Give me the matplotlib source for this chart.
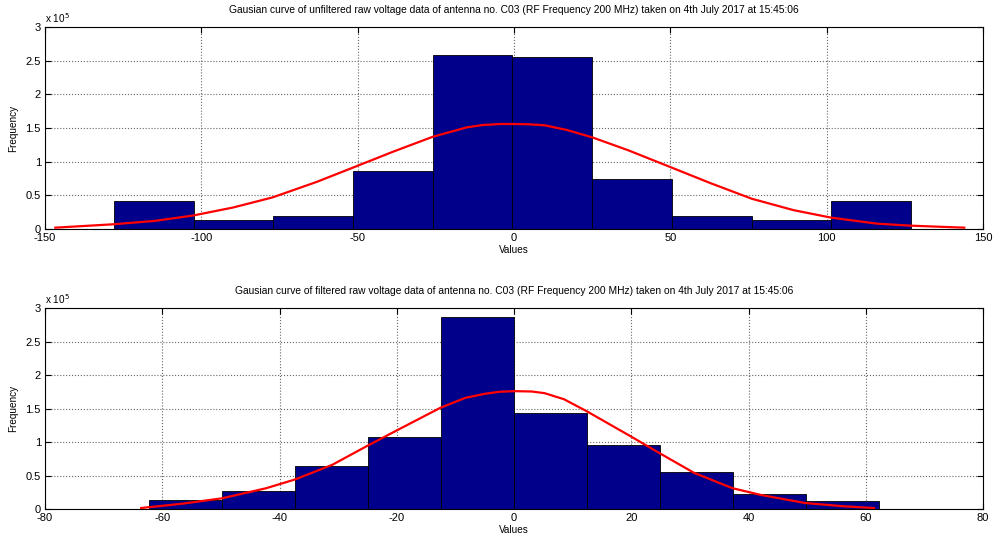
import numpy as np
import matplotlib
matplotlib.use('Agg')
from matplotlib import pyplot as plt
from matplotlib.ticker import FuncFormatter

plt.rcParams['font.family'] = ['Liberation Sans', 'DejaVu Sans']
plt.rcParams['axes.unicode_minus'] = False  # guion simple como en matlab

#%% datos leidos de la figura
# histograma sin filtrar (10 bins)
edges_unf = [-128, -102.5, -77, -51.5, -26, -0.5, 25, 50.5, 76, 101.5, 127]
freq_unf = [42000, 13000, 20000, 86000, 259000, 256000, 74000, 20000, 14000, 41000]
# curva gaussiana sin filtrar (puntos leidos)
gx_unf = [-146.7, -128.3, -115, -102.7, -89.8, -77.2, -63.1, -50, -38.6, -26, -15.1, -10, -4.4,
          0, 5, 9.9, 17, 25.1, 36.5, 50, 62.9, 76, 89.4, 101.3, 116, 126.7, 144]
gy_unf = [2000, 7000, 12000, 20000, 32000, 47000, 70000, 94000, 115000, 137000, 151000, 154500, 156000,
          156000, 155500, 154000, 147000, 136000, 117000, 92000, 68000, 45000, 28000, 17000, 8000, 5000, 2000]

# histograma filtrado (10 bins)
edges_fil = [-62.2, -49.8, -37.3, -24.9, -12.4, 0, 12.4, 24.9, 37.3, 49.8, 62.2]
freq_fil = [13500, 27000, 64000, 108000, 286000, 143000, 96000, 56000, 22000, 12500]
# curva gaussiana filtrada (puntos leidos)
gx_fil = [-63.6, -56.5, -49.8, -42.3, -37.4, -31, -25.1, -20.3, -12.6, -8.3, -5, -2.6,
          0, 3, 5.2, 8.5, 12.4, 20, 24.9, 30.7, 37.3, 42.1, 49.6, 56.3, 61.4]
gy_fil = [1500, 8000, 16000, 31000, 44000, 66000, 94000, 116000, 151000, 166000, 172000, 175000,
          176000, 175500, 173000, 164000, 146000, 108000, 83000, 54000, 31000, 21000, 9000, 4000, 1500]

titulos = ['Gausian curve of unfiltered raw voltage data of antenna no. C03 (RF Frequency 200 MHz) taken on 4th July 2017 at 15:45:06',
           'Gausian curve of filtered raw voltage data of antenna no. C03 (RF Frequency 200 MHz) taken on 4th July 2017 at 15:45:06']

#%% grafico
fig = plt.figure(figsize=(9.94, 5.40), dpi=100)
ax1 = fig.add_axes([0.0453, 0.5759, 0.9437, 0.374])
ax2 = fig.add_axes([0.0453, 0.0574, 0.9437, 0.372])

datos = [(ax1, edges_unf, freq_unf, gx_unf, gy_unf, (-150, 150), np.arange(-150, 151, 50)),
         (ax2, edges_fil, freq_fil, gx_fil, gy_fil, (-80, 80), np.arange(-80, 81, 20))]

for (ax, edges, freq, gx, gy, xl, xt), tit in zip(datos, titulos):
    ed = np.array(edges)
    ax.bar(ed[:-1], freq, width=np.diff(ed), align='edge', color='#00008B',
           edgecolor='black', linewidth=0.6, zorder=2)
    ax.plot(gx, gy, color='#FF0000', linewidth=1.6, zorder=3)
    ax.set_xlim(xl)
    ax.set_ylim(0, 300000)
    ax.set_xticks(xt)
    ax.set_yticks(np.arange(0, 300001, 50000))
    ax.yaxis.set_major_formatter(FuncFormatter(lambda v, p: '%g' % (v / 1e5)))
    ax.grid(True, linestyle=':', color='#666666', linewidth=0.8, zorder=1)
    ax.set_axisbelow(True)
    ax.tick_params(direction='in', top=True, right=True, labelsize=8, length=4)
    ax.tick_params(axis='x', pad=3)
    ax.tick_params(axis='y', pad=3)
    ax.set_title(tit, fontsize=7.4, pad=10)
    ax.set_xlabel('Values', fontsize=7.2, labelpad=1)
    ax.set_ylabel('Frequency', fontsize=7.2, labelpad=5)
    ax.text(0, 1.012, r'x 10$^{5}$', transform=ax.transAxes, fontsize=7.2, ha='left', va='bottom')
    for s in ax.spines.values():
        s.set_linewidth(0.8)

plt.savefig('out.png', dpi=100)
